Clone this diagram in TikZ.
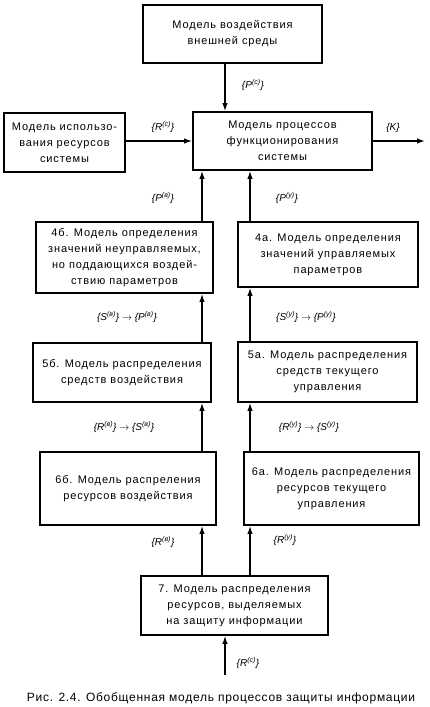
\documentclass[tikz,border=0pt]{standalone}
\usepackage{fontspec}
\setmainfont{Liberation Sans}
\newfontfamily\boxfont[LetterSpace=8]{Liberation Sans}
\newfontfamily\capfont[LetterSpace=6]{Liberation Sans}
\usetikzlibrary{arrows.meta, positioning, calc}

\begin{document}
\begin{tikzpicture}[x=1pt, y=-1pt, ->, >={Latex[length=8pt,width=5.5pt]}, line width=1.3pt]
  \tikzstyle{model} = [rectangle, draw, line width=1.8pt, align=center, inner sep=2pt,
                       font=\boxfont\fontsize{11}{16}\selectfont]
  \tikzstyle{sig} = [font=\itshape\fontsize{10}{12}\selectfont, inner sep=1pt]

  \useasboundingbox (0,0) rectangle (429,707);

  % boxes
  \node[model, minimum width=179pt, minimum height=58pt] (Env) at (232.5,34) {Модель воздействия\\внешней среды};
  \node[model, minimum width=121pt, minimum height=59pt] (Use) at (64.5,142.5) {Модель использо-\\вания ресурсов\\системы};
  \node[model, minimum width=179pt, minimum height=58pt] (Proc) at (282.5,141) {Модель процессов\\функционирования\\системы};
  \node[model, minimum width=177pt, minimum height=71pt] (M4b) at (124.5,257.5) {4б. Модель определения\\значений неуправляемых,\\но поддающихся воздей-\\ствию параметров};
  \node[model, minimum width=180pt, minimum height=65pt] (M4a) at (328,254.5) {4а. Модель определения\\значений управляемых\\параметров};
  \node[model, minimum width=178pt, minimum height=59pt] (M5b) at (122,372.5) {5б. Модель распределения\\средств воздействия};
  \node[model, minimum width=179pt, minimum height=60pt] (M5a) at (327.5,372) {5а. Модель распределения\\средств текущего\\управления};
  \node[model, minimum width=176pt, minimum height=73pt] (M6b) at (128,488.5) {6б. Модель распреления\\ресурсов воздействия};
  \node[model, minimum width=175pt, minimum height=73pt] (M6a) at (331.5,488.5) {6а. Модель распределения\\ресурсов текущего\\управления};
  \node[model, minimum width=187pt, minimum height=59pt] (M7) at (234.5,605.5) {7. Модель распределения\\ресурсов, выделяемых\\на защиту информации};

  % columns and free ends
  \coordinate (colB) at (202,0);
  \coordinate (colA) at (250,0);
  \coordinate (colE) at (225,0);
  \coordinate (Kout) at (425,141);
  \coordinate (Rin) at (225,675);

  % connectors
  \draw (Env.south -| colE) -- (Proc.north -| colE);
  \draw (Use.east |- Proc.west) -- (Proc.west);
  \draw (Proc.east) -- (Kout);
  \draw (M4b.north -| colB) -- (Proc.south -| colB);
  \draw (M4a.north -| colA) -- (Proc.south -| colA);
  \draw (M5b.north -| colB) -- (M4b.south -| colB);
  \draw (M5a.north -| colA) -- (M4a.south -| colA);
  \draw (M6b.north -| colB) -- (M5b.south -| colB);
  \draw (M6a.north -| colA) -- (M5a.south -| colA);
  \draw (M7.north -| colB) -- (M6b.south -| colB);
  \draw (M7.north -| colA) -- (M6a.south -| colA);
  \draw (Rin) -- (M7.south -| colE);

  % labels
  \node[sig] (lPc) at (253,85) {\{P\textsuperscript{(с)}\}};
  \node[sig] (lRc) at (163,127) {\{R\textsuperscript{(с)}\}};
  \node[sig] (lK) at (393,128) {\{K\}};
  \node[sig] (lPv) at (163,198) {\{P\textsuperscript{(в)}\}};
  \node[sig] (lPu) at (287,198) {\{P\textsuperscript{(у)}\}};
  \node[sig] (lSPv) at (127,317) {\{S\textsuperscript{(в)}\} $\rightarrow$ \{P\textsuperscript{(в)}\}};
  \node[sig] (lSPu) at (306,317) {\{S\textsuperscript{(у)}\} $\rightarrow$ \{P\textsuperscript{(у)}\}};
  \node[sig] (lRSv) at (124,427) {\{R\textsuperscript{(в)}\} $\rightarrow$ \{S\textsuperscript{(в)}\}};
  \node[sig] (lRSu) at (309,427) {\{R\textsuperscript{(у)}\} $\rightarrow$ \{S\textsuperscript{(у)}\}};
  \node[sig] (lRv) at (163,542) {\{R\textsuperscript{(в)}\}};
  \node[sig] (lRu) at (285,540) {\{R\textsuperscript{(у)}\}};
  \node[sig] (lRc2) at (248,663) {\{R\textsuperscript{(с)}\}};

  % caption
  \node[font=\capfont\fontsize{12}{14}\selectfont] (cap) at (221,698) {Рис. 2.4. Обобщенная модель процессов защиты информации};
\end{tikzpicture}
\end{document}
